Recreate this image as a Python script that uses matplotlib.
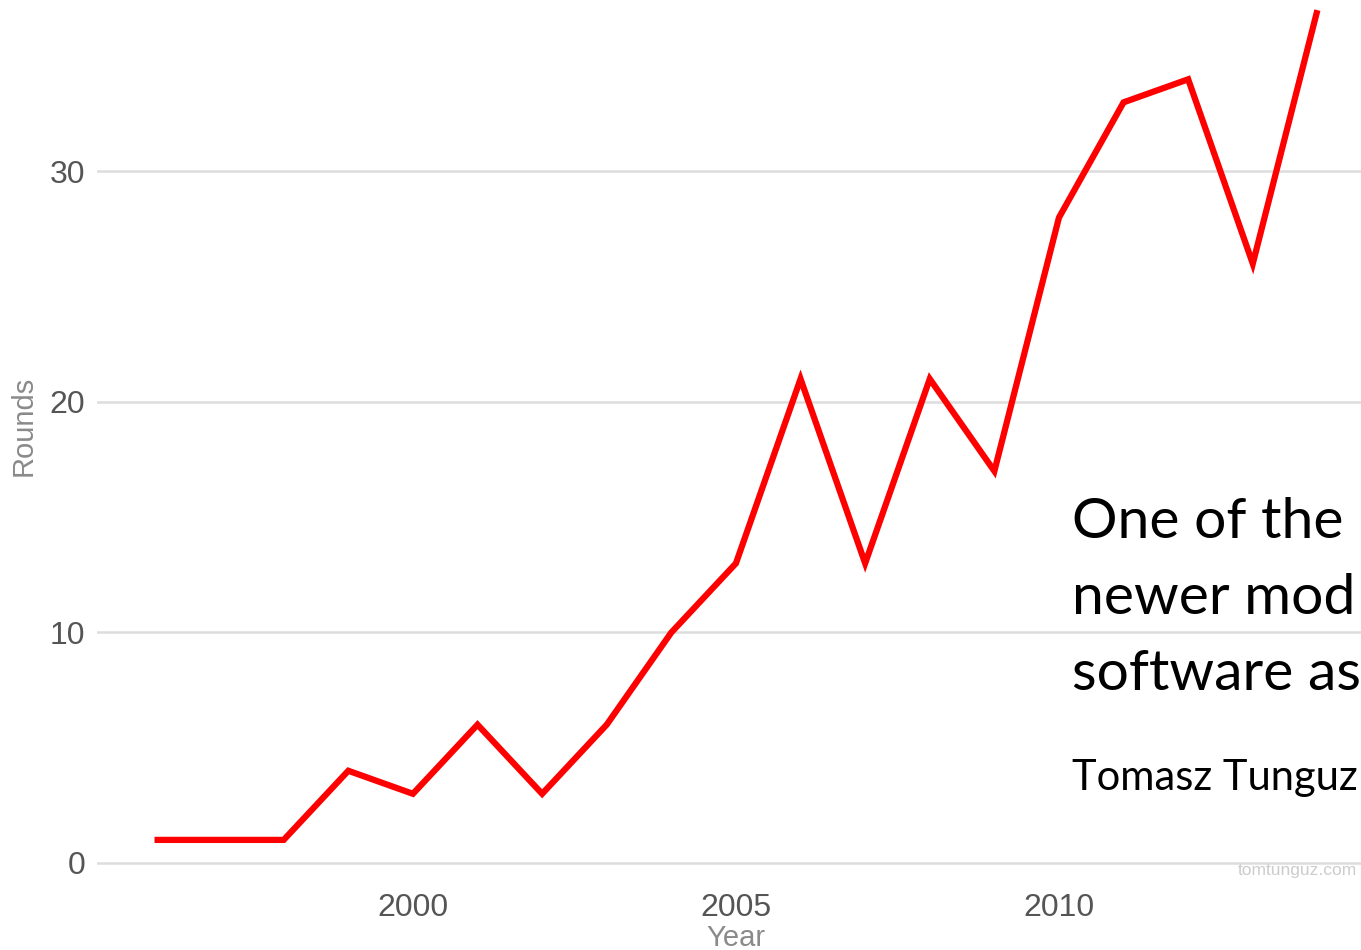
import matplotlib
matplotlib.use("Agg")
import matplotlib.pyplot as plt

years = [1996, 1997, 1998, 1999, 2000, 2001, 2002, 2003, 2004, 2005,
         2006, 2007, 2008, 2009, 2010, 2011, 2012, 2013, 2014]
rounds = [1, 1, 1, 4, 3, 6, 3, 6, 10, 13,
          21, 13, 21, 17, 28, 33, 34, 26, 37]
x_ticks = [2000, 2005, 2010]
y_ticks = [0, 10, 20, 30]

W, H = 1361, 950
fig = plt.figure(figsize=(W / 100, H / 100), dpi=100)
left = 97 / W
bottom = (H - 880) / H
ax = fig.add_axes([left, bottom, 1 - left, 1 - bottom])

ax.plot(years, rounds, color="#ff0000", lw=4.5, solid_joinstyle="miter",
        solid_capstyle="butt", zorder=3, clip_on=False)

ax.set_xlim(1995.11, 2014.675)
ax.set_ylim(-0.74, 37.44)
ax.set_xticks(x_ticks)
ax.set_yticks(y_ticks)
ax.grid(axis="y", color="#dddddd", lw=1.8)
ax.grid(axis="x", visible=False)
for s in ax.spines.values():
    s.set_visible(False)
ax.tick_params(length=0, labelsize=23, labelcolor="#555555")
ax.tick_params(axis="y", pad=8.5)
ax.tick_params(axis="x", pad=9)
for lab in ax.get_xticklabels() + ax.get_yticklabels():
    lab.set_fontfamily("Liberation Sans")

fig.text(736 / W, 1 - 938 / H, "Year", ha="center", va="center",
         fontsize=21, color="#8a8a8a", family="Liberation Sans")
fig.text(24 / W, 1 - 426 / H, "Rounds", ha="center", va="center",
         rotation=90, fontsize=21, color="#8a8a8a", family="Liberation Sans")

fig.text(1238 / W, 1 - 870 / H, "tomtunguz.com", ha="left", va="center",
         fontsize=12.5, color="#cccccc", family="Liberation Sans")

fig.text(1072 / W, 1 - 522 / H, "One of the", ha="left", va="center",
         fontsize=41, color="black", family="Lato")
fig.text(1072 / W, 1 - 598 / H, "newer mod", ha="left", va="center",
         fontsize=41, color="black", family="Lato")
fig.text(1072 / W, 1 - 675 / H, "software as", ha="left", va="center",
         fontsize=41, color="black", family="Lato")
fig.text(1072 / W, 1 - 778 / H, "Tomasz Tunguz", ha="left", va="center",
         fontsize=30, color="black", family="Lato")

fig.savefig("out.png", dpi=100)
